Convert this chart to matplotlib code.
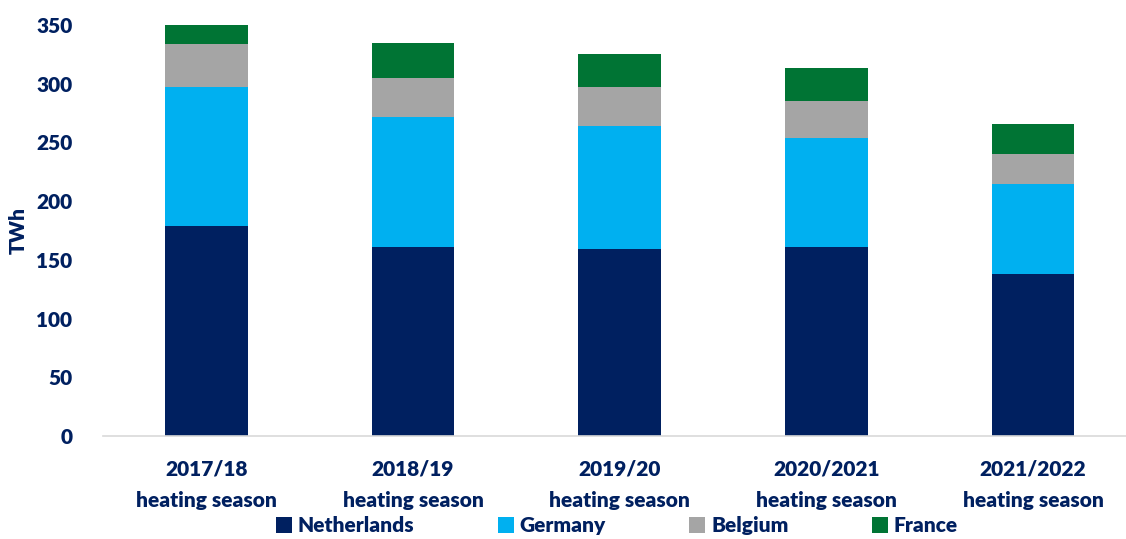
import numpy as np
import matplotlib.pyplot as plt

# data (TWh)
seasons = ['2017/18\nheating season', '2018/19\nheating season', '2019/20\nheating season',
           '2020/2021\nheating season', '2021/2022\nheating season']
netherlands = [179, 161, 159, 161, 138]
germany = [118, 111, 105, 93, 77]
belgium = [37, 33, 33, 31, 25]
france = [16, 30, 28, 28, 26]

series = [('Netherlands', netherlands, '#002060'),
          ('Germany', germany, '#00B0F0'),
          ('Belgium', belgium, '#A5A5A5'),
          ('France', france, '#007434')]

txt = '#002060'
plt.rcParams['font.family'] = ['Lato', 'DejaVu Sans']
plt.rcParams['font.weight'] = 'bold'

fig = plt.figure(figsize=(11.26, 5.39), dpi=100)
ax = fig.add_axes([0.0915, 0.191, 0.9085, 0.7626])

x = np.arange(len(seasons))
bottom = np.zeros(len(seasons))
for name, vals, col in series:
    ax.bar(x, vals, 0.4, bottom=bottom, color=col, label=name)
    bottom += np.array(vals)

ax.set_xlim(-0.5, 4.45)
ax.set_ylim(0, 350)
ax.set_yticks(range(0, 351, 50))
ax.set_xticks(x)
ax.set_xticklabels(seasons, fontsize=15, color=txt, fontweight='heavy', linespacing=1.75)
ax.tick_params(axis='y', labelsize=15, labelcolor=txt, length=0, pad=22)
ax.tick_params(axis='x', length=0, pad=17)
for lab in ax.get_yticklabels():
    lab.set_fontweight('heavy')
ax.set_ylabel('TWh', fontsize=15, color=txt, fontweight='heavy', labelpad=6)

for s in ['top', 'right', 'left']:
    ax.spines[s].set_visible(False)
ax.spines['bottom'].set_color('#D9D9D9')
ax.spines['bottom'].set_linewidth(1.2)

leg = fig.legend(loc='lower center', bbox_to_anchor=(0.548, -0.028), ncol=4, frameon=False,
                 fontsize=15, handlelength=0.75, handleheight=0.75, columnspacing=4.0,
                 handletextpad=0.3)
for t in leg.get_texts():
    t.set_color(txt)
    t.set_fontweight('heavy')

fig.savefig('out.png', dpi=100)
